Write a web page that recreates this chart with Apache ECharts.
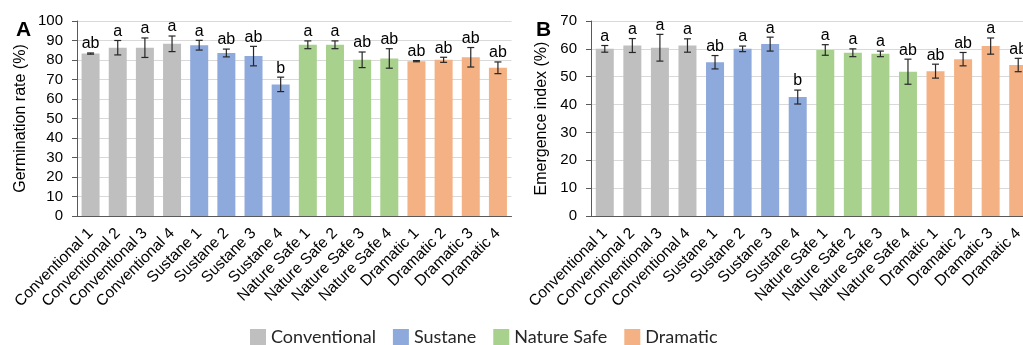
<!DOCTYPE html>
<html>
<head>
<meta charset="utf-8">
<script src="https://cdn.jsdelivr.net/npm/echarts@6/dist/echarts.min.js"></script>
<style>
  html, body { margin: 0; padding: 0; background: #fff; }
  #chart { width: 1023px; height: 345px; }
</style>
</head>
<body>
<div id="chart"></div>
<script>
// treatments, four rates per product
const categories = [
  'Conventional 1', 'Conventional 2', 'Conventional 3', 'Conventional 4',
  'Sustane 1', 'Sustane 2', 'Sustane 3', 'Sustane 4',
  'Nature Safe 1', 'Nature Safe 2', 'Nature Safe 3', 'Nature Safe 4',
  'Dramatic 1', 'Dramatic 2', 'Dramatic 3', 'Dramatic 4'
];
const groups = ['Conventional', 'Sustane', 'Nature Safe', 'Dramatic'];
const groupColors = ['#BFBFBF', '#8EA9DB', '#A9D18E', '#F4B183'];

// panel A - germination rate (%)
const germMean = [83.3, 86.3, 86.3, 88.3, 87.6, 83.6, 82.0, 67.5, 87.8, 87.8, 80.1, 80.8, 79.4, 80.1, 81.4, 76.0];
const germErr = [0.3, 3.7, 5.0, 4.0, 2.5, 2.0, 5.0, 3.7, 2.0, 2.0, 4.0, 5.0, 0.3, 1.3, 5.0, 3.0];
const germLetters = ['ab', 'a', 'a', 'a', 'a', 'ab', 'ab', 'b', 'a', 'a', 'ab', 'ab', 'ab', 'ab', 'ab', 'ab'];

// panel B - emergence index (%)
const emerMean = [60.0, 61.2, 60.4, 61.2, 55.2, 60.0, 61.7, 42.7, 59.6, 58.6, 58.2, 51.8, 52.0, 56.3, 61.0, 54.2];
const emerErr = [1.2, 2.5, 4.8, 2.4, 2.4, 1.0, 2.5, 2.5, 1.9, 1.4, 1.0, 4.5, 2.5, 2.4, 2.9, 2.4];
const emerLetters = ['a', 'a', 'a', 'a', 'ab', 'a', 'a', 'b', 'a', 'a', 'a', 'ab', 'ab', 'ab', 'a', 'ab'];

const AXIS_FONT = '"Liberation Sans", Arial, sans-serif';
const groupOf = c => c.replace(/ \d$/, '');

function barSeries(values, gridIdx) {
  return groups.map((g, k) => ({
    name: g,
    type: 'bar',
    xAxisIndex: gridIdx,
    yAxisIndex: gridIdx,
    barWidth: 18,
    barGap: '-100%',
    itemStyle: { color: groupColors[k] },
    data: values.map((v, i) => groupOf(categories[i]) === g ? v : '-')
  }));
}

function errorSeries(means, errs, letters, gridIdx) {
  return {
    type: 'custom',
    xAxisIndex: gridIdx,
    yAxisIndex: gridIdx,
    clip: false,
    z: 5,
    silent: true,
    encode: { x: 0, y: 1 },
    data: means.map((m, i) => [i, m, errs[i]]),
    renderItem(params, api) {
      const i = api.value(0), m = api.value(1), e = api.value(2);
      const top = api.coord([i, m + e]);
      const bot = api.coord([i, m - e]);
      const cap = 3.5;
      const lineStyle = { stroke: '#262626', lineWidth: 1.2 };
      return {
        type: 'group',
        children: [
          { type: 'line', shape: { x1: top[0], y1: top[1], x2: bot[0], y2: bot[1] }, style: lineStyle },
          { type: 'line', shape: { x1: top[0] - cap, y1: top[1], x2: top[0] + cap, y2: top[1] }, style: lineStyle },
          { type: 'line', shape: { x1: bot[0] - cap, y1: bot[1], x2: bot[0] + cap, y2: bot[1] }, style: lineStyle },
          {
            type: 'text',
            style: {
              text: letters[params.dataIndex],
              x: top[0], y: top[1] - 1,
              align: 'center', verticalAlign: 'bottom',
              font: '16px ' + AXIS_FONT, fill: '#000'
            }
          }
        ]
      };
    }
  };
}

function xAxis(gridIdx) {
  return {
    type: 'category',
    gridIndex: gridIdx,
    data: categories,
    axisLine: { lineStyle: { color: '#595959', width: 1 } },
    axisTick: { length: 5, lineStyle: { color: '#595959' } },
    axisLabel: { rotate: 45, margin: 15, fontSize: 15.5, fontFamily: AXIS_FONT, color: '#000', interval: 0 }
  };
}

function yAxis(gridIdx, max, name, gap) {
  return {
    type: 'value',
    gridIndex: gridIdx,
    min: 0, max: max, interval: 10,
    name: name,
    nameLocation: 'middle',
    nameGap: gap,
    nameTextStyle: { fontSize: 16, fontFamily: AXIS_FONT, color: '#000' },
    axisLine: { show: true, lineStyle: { color: '#595959' } },
    axisTick: { show: true, length: 5, lineStyle: { color: '#595959' } },
    axisLabel: { fontSize: 15, fontFamily: AXIS_FONT, color: '#000', margin: 14 },
    splitLine: { lineStyle: { color: '#D9D9D9' } }
  };
}

const chart = echarts.init(document.getElementById('chart'), null, { renderer: 'canvas' });
chart.setOption({
  animation: false,
  backgroundColor: '#fff',
  title: [
    { text: 'A', left: 11, top: 15, textStyle: { fontSize: 21, fontWeight: 'bold', fontFamily: AXIS_FONT, color: '#000' } },
    { text: 'B', left: 531, top: 15, textStyle: { fontSize: 21, fontWeight: 'bold', fontFamily: AXIS_FONT, color: '#000' } }
  ],
  legend: {
    data: groups,
    left: 245,
    top: 323,
    padding: 5,
    icon: 'rect',
    itemWidth: 16,
    itemHeight: 16,
    itemGap: 17,
    textStyle: { fontSize: 18, fontFamily: 'Lato, "Open Sans", sans-serif', color: '#262626' }
  },
  grid: [
    // panel B runs past the right edge of the picture, as in the original
    { left: 77, top: 21, width: 434.5, height: 195, outerBoundsMode: 'none' },
    { left: 591, top: 21, width: 441, height: 195, outerBoundsMode: 'none' }
  ],
  xAxis: [xAxis(0), xAxis(1)],
  yAxis: [
    yAxis(0, 100, 'Germination rate (%)', 48),
    yAxis(1, 70, 'Emergence index (%)', 41)
  ],
  series: [
    ...barSeries(germMean, 0),
    errorSeries(germMean, germErr, germLetters, 0),
    ...barSeries(emerMean, 1),
    errorSeries(emerMean, emerErr, emerLetters, 1)
  ]
});
</script>
</body>
</html>
